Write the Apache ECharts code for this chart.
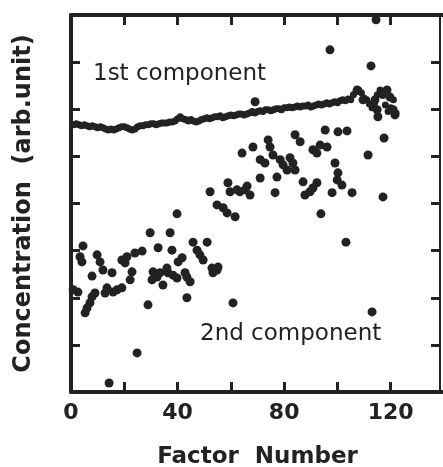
<!DOCTYPE html>
<html>
<head>
<meta charset="utf-8">
<script src="https://cdn.jsdelivr.net/npm/echarts@6/dist/echarts.min.js"></script>
<style>
html,body{margin:0;padding:0;background:#fff;}
#chart{width:443px;height:467px;}
</style>
</head>
<body>
<div id="chart"></div>
<script>
// Factor numbers for the 1st component (one value per factor)
const firstX = [1,2,3,4,5,6,7,8,9,10,11,12,13,14,15,16,17,18,19,20,
21,22,23,24,25,26,27,28,29,30,31,32,33,34,35,36,37,38,39,40,
41,42,43,44,45,46,47,48,49,50,51,52,53,54,55,56,57,58,59,60,
61,62,63,64,65,66,67,68,69,70,71,72,73,74,75,76,77,78,79,80,
81,82,83,84,85,86,87,88,89,90,91,92,93,94,95,96,97,98,99,100,
101,102,103,104,105,106,107,108,109,110,111,112,113,114,115,116,117,118,119,120,121,122];
const firstY = [5.67,5.69,5.67,5.65,5.67,5.65,5.63,5.65,5.63,5.61,5.63,5.61,
5.58,5.56,5.58,5.56,5.58,5.61,5.63,5.63,5.61,5.58,5.56,5.58,5.63,
5.65,5.65,5.67,5.67,5.69,5.69,5.67,5.69,5.71,5.71,
5.71,5.73,5.73,5.75,5.80,5.84,5.80,5.78,5.75,5.78,
5.75,5.73,5.75,5.78,5.80,5.82,5.80,5.82,5.84,5.84,
5.86,5.82,5.84,5.86,5.88,5.86,5.88,5.90,5.90,5.88,
5.90,5.92,5.95,5.92,5.95,5.97,5.95,5.99,5.99,5.97,
5.99,6.01,6.01,5.99,6.03,6.03,6.05,6.03,6.05,6.07,
6.05,6.07,6.07,6.09,6.05,6.07,6.09,6.11,6.09,6.11,
6.14,6.11,6.14,6.16,6.14,6.18,6.20,6.18,6.22,6.20,
6.31,6.37,6.41,6.35,6.24,6.20,6.11,
6.03,6.14,6.31,6.41,6.29,6.09,5.95,6.03,6.20,5.92];

// 2nd component (scattered points)
const secondX = [4.5,3.4,4.1,9.8,10.9,12.0,15.4,7.9,0.8,2.6,9.0,7.9,13.5,12.8,15.8,17.3,19.1,7.1,6.0,5.3,14.3,
21.0,19.1,20.3,24.0,26.7,22.9,22.2,24.8,
29.7,37.2,39.8,32.7,37.9,41.7,40.2,30.8,33.4,32.3,36.0,36.4,38.3,39.8,42.8,43.5,44.7,30.4,34.5,28.9,43.5,
45.8,51.1,47.3,48.4,49.6,
52.9,54.8,55.2,53.3,60.8,52.2,59.7,63.4,67.2,58.9,62.3,66.1,54.8,57.1,58.6,61.6,65.3,
64.2,68.3,74.0,74.7,75.8,71.0,72.8,71.0,69.1,
78.5,79.6,82.2,83.3,84.1,81.1,77.3,76.6,84.1,86.0,
87.1,92.3,90.8,89.7,87.8,90.8,93.5,96.1,92.3,95.4,100.2,103.6,98.0,99.1,100.2,99.9,101.7,105.5,93.8,103.2,111.5,117.5,117.1,113.0,97.2,112.6,114.5,
107.4,109.6,114.1,114.9,115.2,118.6,119.7,120.9,121.6];
const secondY = [3.10,2.87,2.76,2.91,2.76,2.59,2.53,2.46,2.17,2.12,2.10,2.02,2.21,2.10,2.12,2.17,2.21,1.89,1.78,1.68,0.19,
2.87,2.80,2.74,2.95,2.99,2.55,2.38,0.83,
3.38,3.38,3.78,3.06,3.01,2.85,2.76,2.55,2.53,2.44,2.63,2.53,2.48,2.42,2.53,2.44,2.34,2.38,2.27,1.85,2.00,
3.18,3.18,3.01,2.91,2.80,
2.63,2.59,2.65,2.53,1.89,4.25,4.25,4.25,4.18,4.44,4.29,4.37,3.97,3.91,3.80,3.72,4.29,
5.07,5.20,5.35,5.20,5.03,4.93,4.86,4.54,6.16,
4.93,4.82,4.97,4.86,4.71,4.71,4.56,4.23,5.46,5.31,
4.46,4.44,4.33,4.25,4.18,5.14,5.24,5.20,5.07,5.56,5.52,5.54,4.23,4.86,4.65,4.50,4.39,4.23,3.78,3.18,5.03,5.39,4.14,1.70,7.26,6.92,7.90,
6.41,6.20,6.20,5.99,5.84,6.41,6.26,5.99,5.88];

// Axis ticks / labels
const xTickValues = [20,40,60,80,100,120];
const xLabelValues = [0,40,80,120];
const yMin = 0, yMax = 8;
const xName = 'Factor  Number';
const yName = 'Concentration  (arb.unit)';
const firstLabel = '1st component';
const secondLabel = '2nd component';

const ink = '#222';
const chart = echarts.init(document.getElementById('chart'), null, {renderer:'canvas'});

const firstData = firstX.map((x,i)=>[x, firstY[i]]);
const secondData = secondX.map((x,i)=>[x, secondY[i]]);

const labelFmt = v => (xLabelValues.indexOf(v) >= 0 ? String(v) : '');

// inward tick marks on the bottom and top frame, in data units
const tickLen = 0.21;
const tickSegments = [];
xTickValues.forEach(v => {
  tickSegments.push([{coord:[v, yMin]}, {coord:[v, yMin + tickLen]}]);
  tickSegments.push([{coord:[v, yMax]}, {coord:[v, yMax - tickLen]}]);
});

chart.setOption({
  animation:false,
  backgroundColor:'#fff',
  grid:{left:71, top:15, width:373, height:377, containLabel:false, outerBoundsMode:'none'},
  xAxis:[{
    type:'value', position:'bottom', min:0, max:140, interval:20,
    name:xName, nameLocation:'middle', nameGap:54, nameTextStyle:{fontFamily:'DejaVu Sans', fontWeight:'bold', fontSize:23, color:ink},
    axisLine:{show:true, onZero:false, lineStyle:{color:ink, width:4}},
    axisTick:{show:true, inside:true, length:10, lineStyle:{color:ink, width:3}},
    axisLabel:{show:true, margin:10, fontFamily:'DejaVu Sans', fontWeight:'bold', fontSize:22, color:ink,
      formatter:labelFmt, showMaxLabel:false},
    splitLine:{show:false}
  },{
    type:'value', position:'top', min:0, max:140, interval:20,
    axisLine:{show:true, onZero:false, lineStyle:{color:ink, width:4}},
    axisTick:{show:true, inside:true, length:10, lineStyle:{color:ink, width:3}},
    axisLabel:{show:false},
    splitLine:{show:false}
  }],
  yAxis:[{
    type:'value', position:'left', min:yMin, max:yMax, interval:1,
    name:yName, nameLocation:'middle', nameGap:35, nameRotate:90,
    nameTextStyle:{fontFamily:'DejaVu Sans', fontWeight:'bold', fontSize:24, color:ink},
    axisLine:{show:true, onZero:false, lineStyle:{color:ink, width:4}},
    axisTick:{show:true, inside:true, length:9, lineStyle:{color:ink, width:3}},
    axisLabel:{show:false},
    splitLine:{show:false}
  },{
    type:'value', position:'right', offset:-4, min:yMin, max:yMax, interval:1,
    axisLine:{show:true, onZero:false, lineStyle:{color:ink, width:2}},
    axisTick:{show:true, inside:true, length:9, lineStyle:{color:ink, width:3}},
    axisLabel:{show:false},
    splitLine:{show:false}
  }],
  series:[{
    name:firstLabel, type:'scatter', xAxisIndex:0, yAxisIndex:0,
    symbol:'circle', symbolSize:7, itemStyle:{color:ink, opacity:1}, data:firstData, silent:true,
    markLine:{
      silent:true, animation:false, symbol:['none','none'],
      label:{show:false},
      lineStyle:{color:ink, width:3, type:'solid', opacity:1},
      emphasis:{disabled:true},
      data:tickSegments
    }
  },{
    name:secondLabel, type:'scatter', xAxisIndex:0, yAxisIndex:0,
    symbol:'circle', symbolSize:9, itemStyle:{color:ink, opacity:1}, data:secondData, silent:true
  }],
  graphic:[{
    type:'text', left:93, top:63,
    style:{text:firstLabel, fontFamily:'DejaVu Sans', fontSize:23, fill:ink}
  },{
    type:'text', left:200, top:323,
    style:{text:secondLabel, fontFamily:'DejaVu Sans', fontSize:23, fill:ink}
  }]
});
</script>
</body>
</html>
